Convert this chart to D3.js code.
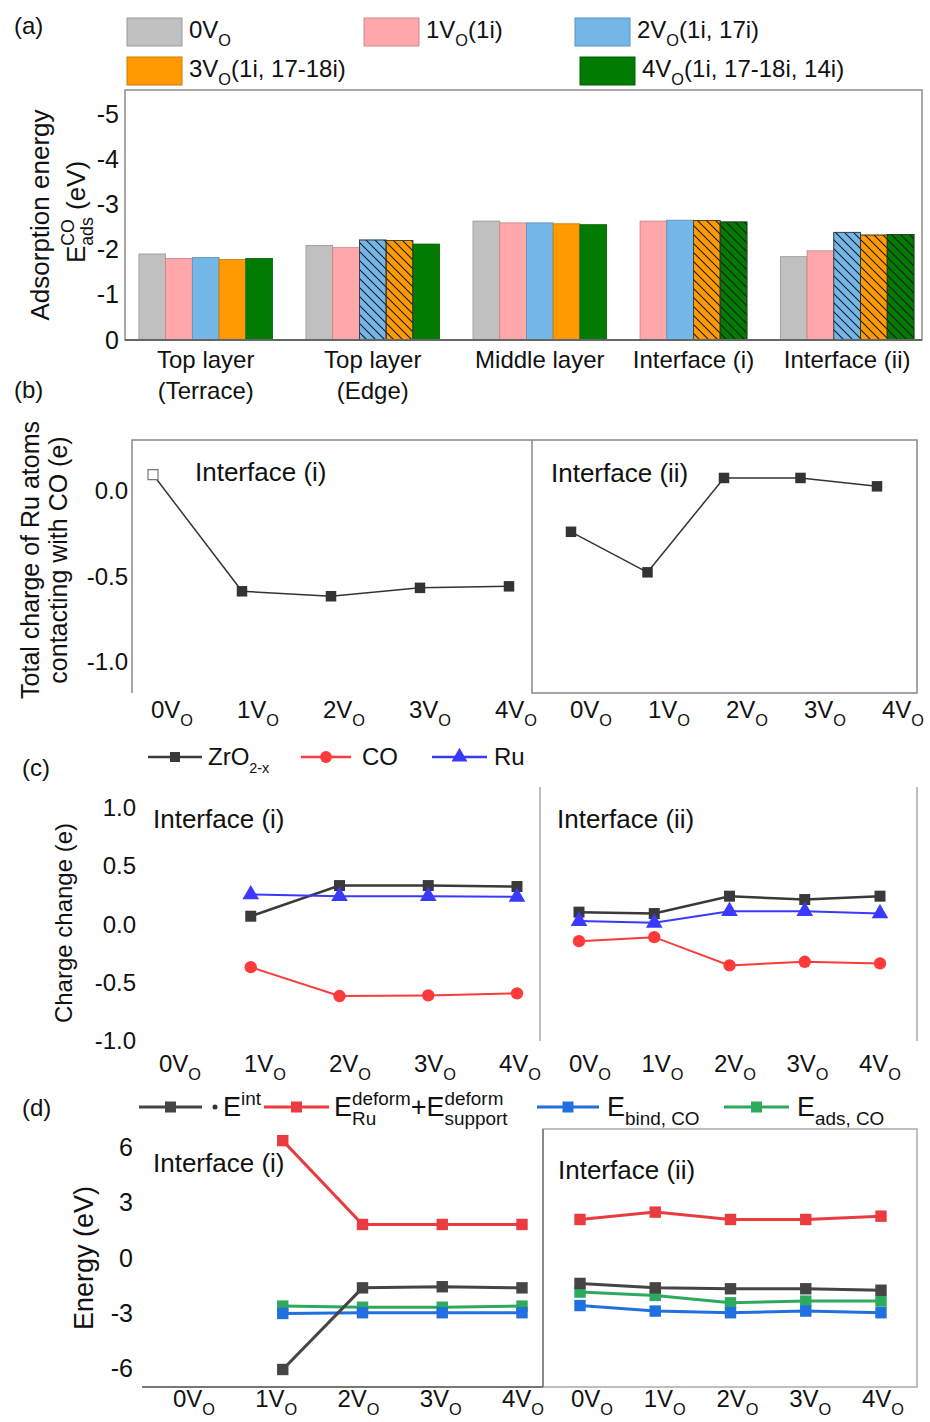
<!DOCTYPE html>
<html>
<head>
<meta charset="utf-8">
<script src="https://cdn.jsdelivr.net/npm/d3@7"></script>
<style>
  body { margin: 0; background: #fff; }
  svg { display: block; font-family: "Liberation Sans", Arial, sans-serif; fill: #111; }
  text { white-space: pre; }
</style>
</head>
<body>
<svg id="fig" width="930" height="1422"></svg>
<script>
// ---------- data ----------
// panel (a): CO adsorption energy per site and vacancy count
const siteLabels = [["Top layer", "(Terrace)"], ["Top layer", "(Edge)"], ["Middle layer"], ["Interface (i)"], ["Interface (ii)"]];
const vacLegend = [["0V", ""], ["1V", "(1i)"], ["2V", "(1i, 17i)"], ["3V", "(1i, 17-18i)"], ["4V", "(1i, 17-18i, 14i)"]];
const barColors = ["#c0c0c0", "#ffa7ab", "#73b7e9", "#ff9a03", "#017b01"];
const ads0 = [-1.91, -2.10, -2.64, null, -1.85];
const ads1 = [-1.81, -2.05, -2.60, -2.64, -1.98];
const ads2 = [-1.83, -2.22, -2.60, -2.66, -2.39];
const ads3 = [-1.79, -2.21, -2.58, -2.65, -2.33];
const ads4 = [-1.81, -2.13, -2.56, -2.62, -2.34];
const hatch0 = [0, 0, 0, 0, 0];
const hatch1 = [0, 0, 0, 0, 0];
const hatch2 = [0, 1, 0, 0, 1];
const hatch3 = [0, 1, 0, 1, 1];
const hatch4 = [0, 0, 0, 1, 1];
const ticksA = [0, -1, -2, -3, -4, -5];

// shared x categories for (b)-(d)
const vacs = ["0", "1", "2", "3", "4"];

// panel (b): total charge of Ru atoms contacting CO
const ruChargeI = [0.098, -0.585, -0.614, -0.565, -0.556];
const ruChargeII = [-0.237, -0.474, 0.078, 0.078, 0.029];
const ticksB = [0.0, -0.5, -1.0];

// panel (c): charge change
const zrI = [null, 0.071, 0.334, 0.334, 0.326];
const coI = [null, -0.366, -0.614, -0.609, -0.591];
const ruI = [null, 0.257, 0.243, 0.243, 0.237];
const zrII = [0.106, 0.094, 0.243, 0.214, 0.243];
const coII = [-0.143, -0.109, -0.351, -0.320, -0.334];
const ruII = [0.029, 0.014, 0.114, 0.114, 0.094];
const ticksC = [1.0, 0.5, 0.0, -0.5, -1.0];

// panel (d): energies
const eIntI = [null, -6.05, -1.62, -1.56, -1.62];
const eDefI = [null, 6.37, 1.82, 1.82, 1.82];
const eBindI = [null, -3.01, -2.97, -2.97, -2.97];
const eAdsI = [null, -2.61, -2.67, -2.67, -2.61];
const eIntII = [-1.38, -1.62, -1.67, -1.67, -1.75];
const eDefII = [2.09, 2.49, 2.09, 2.09, 2.27];
const eBindII = [-2.58, -2.88, -2.97, -2.88, -2.97];
const eAdsII = [-1.85, -2.03, -2.43, -2.34, -2.34];
const ticksD = [6, 3, 0, -3, -6];

// ---------- helpers ----------
const svg = d3.select("#fig");

// text with sub/superscripts; parts are strings or {sup, sub}
function rich(g, parts, fs) {
    let x = 0;
    parts.forEach(p => {
        if (typeof p === "string") {
            const t = g.append("text").attr("x", x).attr("font-size", fs).text(p);
            x += t.node().getComputedTextLength();
        } else {
            let w = 0;
            const ss = p.size || 0.68;
            if (p.sup) {
                const t = g.append("text").attr("x", x).attr("y", -fs * 0.42)
                    .attr("font-size", fs * ss).text(p.sup);
                w = Math.max(w, t.node().getComputedTextLength());
            }
            if (p.sub) {
                const t = g.append("text").attr("x", x).attr("y", fs * 0.32)
                    .attr("font-size", fs * ss).text(p.sub);
                w = Math.max(w, t.node().getComputedTextLength());
            }
            x += w;
        }
    });
    return x;
}

function centered(parent, x, y, parts, fs) {
    const g = parent.append("g");
    const w = rich(g, parts, fs);
    g.attr("transform", "translate(" + (x - w / 2) + "," + y + ")");
}

function vertTitle(parent, cx, cy, parts, fs) {
    const outer = parent.append("g").attr("transform", "translate(" + cx + "," + cy + ") rotate(-90)");
    const g = outer.append("g");
    const w = rich(g, parts, fs);
    g.attr("transform", "translate(" + (-w / 2) + "," + (fs * 0.35) + ")");
}

function yAxis(y, ticks, x, fmt, fs) {
    const ax = svg.append("g")
        .attr("transform", "translate(" + x + ",0)")
        .call(d3.axisLeft(y).tickValues(ticks).tickSize(0).tickPadding(0).tickFormat(fmt));
    ax.select(".domain").remove();
    ax.selectAll("text").attr("font-size", fs).attr("font-family", "inherit").attr("fill", "#111");
}

function vLabels(xs, yBase, fs) {
    vacs.forEach(v => centered(svg, xs(v), yBase, [v + "V", { sub: "O" }], fs));
}

function series(xs, y, vals, color, width, symbol, size, fill) {
    const pts = vals.map((v, i) => ({ k: vacs[i], v })).filter(d => d.v != null);
    svg.append("path")
        .attr("d", d3.line().x(d => xs(d.k)).y(d => y(d.v))(pts))
        .attr("fill", "none").attr("stroke", color).attr("stroke-width", width);
    svg.append("g").selectAll("path").data(pts).enter().append("path")
        .attr("transform", d => "translate(" + xs(d.k) + "," + y(d.v) + ")")
        .attr("d", d3.symbol().type(symbol).size(size))
        .attr("fill", fill || color);
}

function legendItem(x1, x2, y, color, width, symbol, size) {
    svg.append("line").attr("x1", x1).attr("x2", x2).attr("y1", y).attr("y2", y)
        .attr("stroke", color).attr("stroke-width", width);
    svg.append("path").attr("transform", "translate(" + (x1 + x2) / 2 + "," + y + ")")
        .attr("d", d3.symbol().type(symbol).size(size)).attr("fill", color);
}

// ---------- panel (a) ----------
const defs = svg.append("defs");
defs.append("pattern")
    .attr("id", "hatch").attr("patternUnits", "userSpaceOnUse")
    .attr("width", 9).attr("height", 9)
    .append("path")
    .attr("d", "M0,0 L9,9 M-2,7 L2,11 M7,-2 L11,2")
    .attr("stroke", "#1a1a1a").attr("stroke-width", 1.1);

const adsSeries = [ads0, ads1, ads2, ads3, ads4];
const hatchSeries = [hatch0, hatch1, hatch2, hatch3, hatch4];
const bars = [];
const groups = [];
let slot = 0;
siteLabels.forEach((lab, ci) => {
    const start = slot;
    adsSeries.forEach((s, si) => {
        if (s[ci] == null) return;
        bars.push({ si, v: s[ci], h: hatchSeries[si][ci], slot });
        slot += 1;
    });
    groups.push({ lab, mid: (start + slot) / 2 });
    slot += 1.25;
});
slot -= 1.25;

const xA = d3.scaleLinear().domain([-0.52, slot + 0.3]).range([125, 922]);
const yA = d3.scaleLinear().domain([0, -5.55]).range([340, 90]);

svg.append("text").attr("x", 14).attr("y", 34).attr("font-size", 24).text("(a)");

// legend (a)
const legPos = [[127, 18], [364, 18], [575, 18], [127, 57], [580, 57]];
vacLegend.forEach((d, i) => {
    const [lx, ly] = legPos[i];
    svg.append("rect").attr("x", lx).attr("y", ly).attr("width", 55).attr("height", 28)
        .attr("fill", barColors[i]).attr("stroke", d3.color(barColors[i]).darker(0.6)).attr("stroke-width", 1);
    const g = svg.append("g").attr("transform", "translate(" + (lx + 62) + "," + (ly + 20) + ")");
    rich(g, [d[0], { sub: "O" }, d[1]], 24);
});

const barG = svg.append("g");
barG.selectAll("rect.bar").data(bars).enter().append("rect")
    .attr("class", "bar")
    .attr("x", d => xA(d.slot))
    .attr("y", d => yA(d.v))
    .attr("width", d => xA(d.slot + 1) - xA(d.slot))
    .attr("height", d => yA(0) - yA(d.v))
    .attr("fill", d => barColors[d.si])
    .attr("stroke", d => d3.color(barColors[d.si]).darker(0.7))
    .attr("stroke-width", 0.8);
barG.selectAll("rect.hatch").data(bars.filter(d => d.h)).enter().append("rect")
    .attr("class", "hatch")
    .attr("x", d => xA(d.slot))
    .attr("y", d => yA(d.v))
    .attr("width", d => xA(d.slot + 1) - xA(d.slot))
    .attr("height", d => yA(0) - yA(d.v))
    .attr("fill", "url(#hatch)")
    .attr("stroke", "#333").attr("stroke-width", 0.8);

svg.append("rect")
    .attr("x", xA.range()[0]).attr("y", yA.range()[1])
    .attr("width", xA.range()[1] - xA.range()[0]).attr("height", yA.range()[0] - yA.range()[1])
    .attr("fill", "none").attr("stroke", "#8c8c8c").attr("stroke-width", 1.5);
svg.append("line")
    .attr("x1", xA.range()[0]).attr("x2", xA.range()[1])
    .attr("y1", yA(0)).attr("y2", yA(0))
    .attr("stroke", "#666").attr("stroke-width", 2);

yAxis(yA, ticksA, 119, d => String(d), 25);

groups.forEach(gr => {
    gr.lab.forEach((line, li) => {
        svg.append("text")
            .attr("x", xA(gr.mid - 0.5) + (xA(1) - xA(0)) / 2)
            .attr("y", 368 + li * 31)
            .attr("text-anchor", "middle").attr("font-size", 24).text(line);
    });
});

vertTitle(svg, 40, 215, ["Adsorption energy"], 26);
vertTitle(svg, 76, 212, ["E", { sup: "CO", sub: "ads" }, " (eV)"], 26);

// ---------- panel (b) ----------
const yB = d3.scaleLinear().domain([0.30, -1.18]).range([440, 693]);
const xBi = d3.scalePoint().domain(vacs).range([153, 509]);
const xBii = d3.scalePoint().domain(vacs).range([571, 877]);
const xBiLab = d3.scalePoint().domain(vacs).range([172, 516]);
const xBiiLab = d3.scalePoint().domain(vacs).range([591, 903]);

svg.append("text").attr("x", 14).attr("y", 398).attr("font-size", 24).text("(b)");
svg.append("path")
    .attr("d", "M132," + yB.range()[1] + " V" + yB.range()[0] + " H917 V" + yB.range()[1] + " H532 V" + yB.range()[0])
    .attr("fill", "none").attr("stroke", "#888").attr("stroke-width", 1.5);

yAxis(yB, ticksB, 128, d => d.toFixed(1), 24);
vLabels(xBiLab, 718, 24);
vLabels(xBiiLab, 718, 24);

// interface (i): the 0V point is drawn open
series(xBi, yB, ruChargeI.map((v, i) => i === 0 ? null : v), "#333", 1.5, d3.symbolSquare, 110);
svg.append("line")
    .attr("x1", xBi("0")).attr("y1", yB(ruChargeI[0]))
    .attr("x2", xBi("1")).attr("y2", yB(ruChargeI[1]))
    .attr("stroke", "#333").attr("stroke-width", 1.5);
svg.append("path")
    .attr("transform", "translate(" + xBi("0") + "," + yB(ruChargeI[0]) + ")")
    .attr("d", d3.symbol().type(d3.symbolSquare).size(100))
    .attr("fill", "#fff").attr("stroke", "#777").attr("stroke-width", 1.2);
series(xBii, yB, ruChargeII, "#333", 1.5, d3.symbolSquare, 110);

svg.append("text").attr("x", 195).attr("y", 481).attr("font-size", 26).text("Interface (i)");
svg.append("text").attr("x", 551).attr("y", 482).attr("font-size", 26).text("Interface (ii)");

vertTitle(svg, 30, 560, ["Total charge of Ru atoms"], 25);
vertTitle(svg, 58, 560, ["contacting with CO (e)"], 25);

// ---------- panel (c) ----------
const yC = d3.scaleLinear().domain([1.18, -1.0]).range([787, 1041]);
const xCi = d3.scalePoint().domain(vacs).range([162, 517]);
const xCii = d3.scalePoint().domain(vacs).range([579, 880]);
const xCiLab = d3.scalePoint().domain(vacs).range([180, 520]);
const xCiiLab = d3.scalePoint().domain(vacs).range([590, 880]);

svg.append("text").attr("x", 22).attr("y", 776).attr("font-size", 24).text("(c)");
[540, 917].forEach(x => {
    svg.append("line").attr("x1", x).attr("x2", x)
        .attr("y1", yC.range()[0]).attr("y2", yC.range()[1])
        .attr("stroke", "#aaa").attr("stroke-width", 1.5);
});

// legend (c)
const colZr = "#3a3a3a", colCO = "#ff3a3a", colRu = "#3a3aff";
legendItem(148, 202, 757, colZr, 2.5, d3.symbolSquare, 100);
svg.append("g").attr("transform", "translate(208,765)").call(g => rich(g, ["ZrO", { sub: "2-x", size: 0.6 }], 24));
legendItem(301, 351, 757, colCO, 2.5, d3.symbolCircle, 110);
svg.append("text").attr("x", 362).attr("y", 765).attr("font-size", 24).text("CO");
legendItem(432, 487, 757, colRu, 2.5, d3.symbolTriangle, 110);
svg.append("text").attr("x", 494).attr("y", 765).attr("font-size", 24).text("Ru");

yAxis(yC, ticksC, 136, d => d.toFixed(1), 24);
vLabels(xCiLab, 1072, 24);
vLabels(xCiiLab, 1072, 24);

series(xCi, yC, zrI, colZr, 2.5, d3.symbolSquare, 121);
series(xCi, yC, ruI, colRu, 2, d3.symbolTriangle, 120);
series(xCi, yC, coI, colCO, 2, d3.symbolCircle, 120);
series(xCii, yC, zrII, colZr, 2.5, d3.symbolSquare, 121);
series(xCii, yC, ruII, colRu, 2, d3.symbolTriangle, 120);
series(xCii, yC, coII, colCO, 2, d3.symbolCircle, 120);

svg.append("text").attr("x", 153).attr("y", 828).attr("font-size", 26).text("Interface (i)");
svg.append("text").attr("x", 557).attr("y", 828).attr("font-size", 26).text("Interface (ii)");

vertTitle(svg, 64, 923, ["Charge change (e)"], 24);

// ---------- panel (d) ----------
const yD = d3.scaleLinear().domain([7, -7]).range([1129, 1387]);
const xDi = d3.scalePoint().domain(vacs).range([203, 522]);
const xDii = d3.scalePoint().domain(vacs).range([580, 881]);
const xDiLab = d3.scalePoint().domain(vacs).range([194, 523]);
const xDiiLab = d3.scalePoint().domain(vacs).range([592, 883]);

svg.append("text").attr("x", 22).attr("y", 1116).attr("font-size", 24).text("(d)");
svg.append("path")
    .attr("d", "M543," + yD.range()[1] + " V" + yD.range()[0] + " H917 V" + yD.range()[1] + " H543")
    .attr("fill", "none").attr("stroke", "#aaa").attr("stroke-width", 1.5);
svg.append("line").attr("x1", 142).attr("x2", 543)
    .attr("y1", yD.range()[1]).attr("y2", yD.range()[1])
    .attr("stroke", "#777").attr("stroke-width", 2);
svg.append("line").attr("x1", 543).attr("x2", 543)
    .attr("y1", yD.range()[0]).attr("y2", yD.range()[1])
    .attr("stroke", "#777").attr("stroke-width", 1.5);

const colInt = "#454545", colDef = "#ea3b40", colBind = "#2070e0", colAds = "#2eaa5e";
legendItem(139, 202, 1107, colInt, 3, d3.symbolSquare, 121);
svg.append("circle").attr("cx", 215).attr("cy", 1107).attr("r", 2.5).attr("fill", "#333");
svg.append("g").attr("transform", "translate(223,1116)").call(g => rich(g, ["E", { sup: "int", size: 0.7 }], 27));
legendItem(264, 329, 1107, colDef, 3, d3.symbolSquare, 121);
svg.append("g").attr("transform", "translate(334,1116)").call(g => rich(g, ["E", { sup: "deform", sub: "Ru", size: 0.7 }, "+E", { sup: "deform", sub: "support", size: 0.7 }], 27));
legendItem(537, 599, 1107, colBind, 3, d3.symbolSquare, 121);
svg.append("g").attr("transform", "translate(607,1116)").call(g => rich(g, ["E", { sub: "bind, CO", size: 0.7 }], 27));
legendItem(724, 789, 1107, colAds, 3, d3.symbolSquare, 121);
svg.append("g").attr("transform", "translate(797,1116)").call(g => rich(g, ["E", { sub: "ads, CO", size: 0.7 }], 27));

yAxis(yD, ticksD, 133, d => String(d), 25);
vLabels(xDiLab, 1407, 24);
vLabels(xDiiLab, 1407, 24);

series(xDi, yD, eAdsI, colAds, 3, d3.symbolSquare, 130);
series(xDi, yD, eBindI, colBind, 3, d3.symbolSquare, 130);
series(xDi, yD, eDefI, colDef, 3, d3.symbolSquare, 130);
series(xDi, yD, eIntI, colInt, 3, d3.symbolSquare, 130);
series(xDii, yD, eAdsII, colAds, 3, d3.symbolSquare, 130);
series(xDii, yD, eBindII, colBind, 3, d3.symbolSquare, 130);
series(xDii, yD, eDefII, colDef, 3, d3.symbolSquare, 130);
series(xDii, yD, eIntII, colInt, 3, d3.symbolSquare, 130);

svg.append("text").attr("x", 153).attr("y", 1172).attr("font-size", 26).text("Interface (i)");
svg.append("text").attr("x", 558).attr("y", 1179).attr("font-size", 26).text("Interface (ii)");

vertTitle(svg, 84, 1258, ["Energy (eV)"], 27);
</script>
</body>
</html>
